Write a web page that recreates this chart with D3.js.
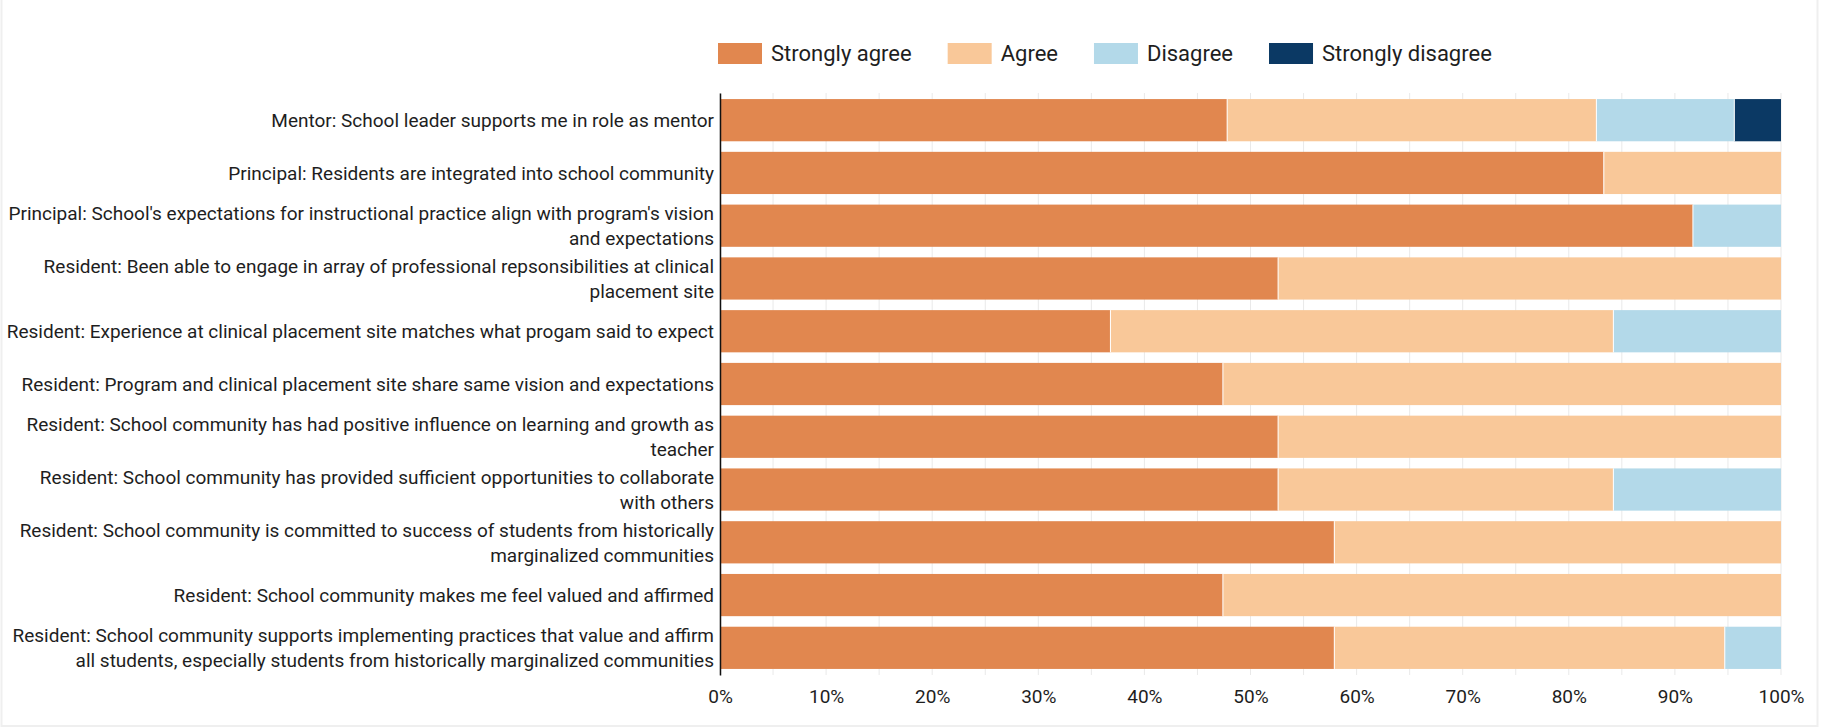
<!DOCTYPE html>
<html>
<head>
<meta charset="utf-8">
<script src="https://cdn.jsdelivr.net/npm/d3@7"></script>
<style>
  html, body { margin: 0; padding: 0; background: #ffffff; }
  svg { display: block; font-family: Roboto, "Noto Sans", sans-serif; }
</style>
</head>
<body>
<svg id="chart" width="1825" height="728"></svg>
<script>
// Survey items (rows, top to bottom)
const categories = [
  "Mentor: School leader supports me in role as mentor",
  "Principal: Residents are integrated into school community",
  "Principal: School's expectations for instructional practice align with program's vision and expectations",
  "Resident: Been able to engage in array of professional repsonsibilities at clinical placement site",
  "Resident: Experience at clinical placement site matches what progam said to expect",
  "Resident: Program and clinical placement site share same vision and expectations",
  "Resident: School community has had positive influence on learning and growth as teacher",
  "Resident: School community has provided sufficient opportunities to collaborate with others",
  "Resident: School community is committed to success of students from historically marginalized communities",
  "Resident: School community makes me feel valued and affirmed",
  "Resident: School community supports implementing practices that value and affirm all students, especially students from historically marginalized communities"
];

// Response shares, percent of respondents
const responseLevels = ["Strongly agree", "Agree", "Disagree", "Strongly disagree"];
const stronglyAgree    = [47.8, 83.3, 91.7, 52.6, 36.8, 47.4, 52.6, 52.6, 57.9, 47.4, 57.9];
const agree            = [34.8, 16.7,  0.0, 47.4, 47.4, 52.6, 47.4, 31.6, 42.1, 52.6, 36.8];
const disagree         = [13.0,  0.0,  8.3,  0.0, 15.8,  0.0,  0.0, 15.8,  0.0,  0.0,  5.3];
const stronglyDisagree = [ 4.4,  0.0,  0.0,  0.0,  0.0,  0.0,  0.0,  0.0,  0.0,  0.0,  0.0];

const tickValues = [0, 10, 20, 30, 40, 50, 60, 70, 80, 90, 100];
const gridValues = d3.range(0, 101, 5);

const colors = ["#e1874f", "#f9c899", "#b3d9e9", "#0b3964"];

const rows = categories.map((c, i) => ({
  category: c,
  "Strongly agree": stronglyAgree[i],
  "Agree": agree[i],
  "Disagree": disagree[i],
  "Strongly disagree": stronglyDisagree[i]
}));

const svg = d3.select("#chart");
const margin = { top: 93, right: 44, bottom: 53, left: 720 };
const W = +svg.attr("width"), H = +svg.attr("height");

const x = d3.scaleLinear().domain([0, 100]).range([margin.left, W - margin.right]);
const y = d3.scaleBand().domain(categories)
  .range([margin.top, H - margin.bottom])
  .paddingInner(0.2).paddingOuter(0.115);
const color = d3.scaleOrdinal().domain(responseLevels).range(colors);

// faint frame around the card
svg.append("rect")
  .attr("x", 1.5).attr("y", -2).attr("width", 1816).attr("height", 728)
  .attr("fill", "none").attr("stroke", "#efefef").attr("stroke-width", 2);

// vertical grid every 5%
svg.append("g").selectAll("line").data(gridValues).join("line")
  .attr("x1", d => x(d)).attr("x2", d => x(d))
  .attr("y1", margin.top).attr("y2", H - margin.bottom)
  .attr("stroke", "#e9e9e9").attr("stroke-width", 1);

// stacked bars
const stacked = d3.stack().keys(responseLevels)(rows);
svg.append("g").selectAll("g").data(stacked).join("g")
  .attr("fill", s => color(s.key))
  .selectAll("rect").data(s => s).join("rect")
  .attr("x", d => x(d[0]))
  .attr("y", d => y(d.data.category))
  .attr("width", d => Math.max(0, x(d[1]) - x(d[0])))
  .attr("height", y.bandwidth());

// thin white separators between segments
svg.append("g").selectAll("g").data(stacked.slice(0, -1)).join("g")
  .selectAll("line").data(s => s.filter(d => d[1] > d[0] && d[1] < 99.95)).join("line")
  .attr("x1", d => x(d[1])).attr("x2", d => x(d[1]))
  .attr("y1", d => y(d.data.category)).attr("y2", d => y(d.data.category) + y.bandwidth())
  .attr("stroke", "#ffffff").attr("stroke-width", 1);

// x axis (labels only)
const xAxis = svg.append("g")
  .attr("transform", `translate(0,${H - margin.bottom})`)
  .call(d3.axisBottom(x).tickValues(tickValues).tickFormat(d => d + "%").tickSize(0).tickPadding(15));
xAxis.select(".domain").remove();
xAxis.selectAll("text").attr("font-size", 19).attr("fill", "#1e1e1e").attr("font-family", "Roboto");

// y axis with wrapped labels
const yAxis = svg.append("g")
  .attr("transform", `translate(${margin.left},0)`)
  .call(d3.axisLeft(y).tickSize(0).tickPadding(6));
yAxis.select(".domain").attr("stroke", "#111").attr("stroke-width", 1.5);
yAxis.selectAll("text")
  .attr("font-size", 19).attr("fill", "#1e1e1e").attr("font-family", "Roboto")
  .call(wrap, 711);

function wrap(texts, width) {
  texts.each(function () {
    const text = d3.select(this);
    const words = text.text().split(/\s+/);
    const xPos = text.attr("x");
    text.text(null);
    const lines = [];
    let line = [];
    const probe = text.append("tspan");
    for (const w of words) {
      line.push(w);
      probe.text(line.join(" "));
      if (probe.node().getComputedTextLength() > width && line.length > 1) {
        line.pop();
        lines.push(line.join(" "));
        line = [w];
      }
    }
    lines.push(line.join(" "));
    probe.remove();
    const lh = 25;
    const start = -(lines.length - 1) * lh / 2;
    text.attr("dy", null);
    lines.forEach((l, i) => {
      text.append("tspan").attr("x", xPos)
        .attr("dy", i === 0 ? (start + 6.8) + "px" : lh + "px")
        .text(l);
    });
  });
}

// legend
const legend = svg.append("g").attr("transform", "translate(718,43)");
let lx = 0;
responseLevels.forEach(k => {
  const g = legend.append("g").attr("transform", `translate(${lx},0)`);
  g.append("rect").attr("width", 44).attr("height", 21).attr("fill", color(k));
  const t = g.append("text").attr("x", 53).attr("y", 10.5).attr("dy", "0.35em")
    .attr("font-size", 22).attr("fill", "#1e1e1e").attr("font-family", "Roboto").text(k);
  lx += 53 + t.node().getComputedTextLength() + 36;
});
</script>
</body>
</html>
